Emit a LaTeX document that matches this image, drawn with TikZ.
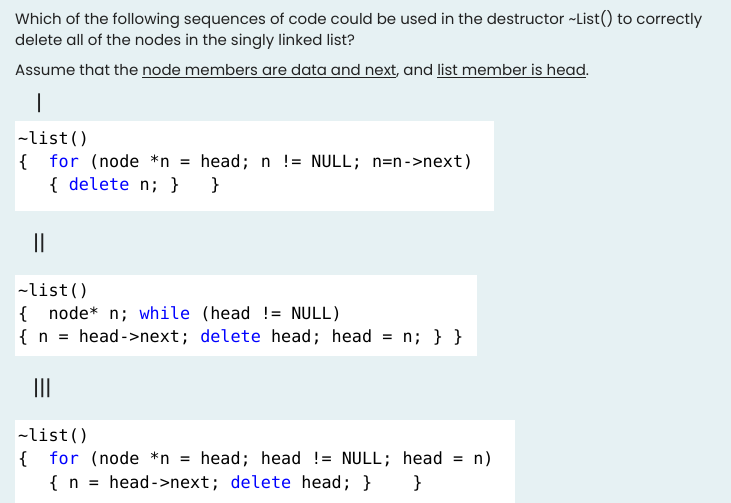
\documentclass[tikz,border=0pt]{standalone}
\usepackage{fontspec}
\setmainfont{Poppins}
\newfontfamily\codefont{DejaVu Sans Mono}
\definecolor{bgc}{HTML}{E6F1F3}
\definecolor{txt}{HTML}{222222}
\definecolor{kw}{HTML}{0000FF}
\newcommand{\kw}[1]{\textcolor{kw}{#1}}
\begin{document}
\begin{tikzpicture}[x=1pt,y=-1pt,
  q/.style={anchor=west,inner sep=0pt,font=\fontsize{15}{18}\selectfont,text=txt},
  rn/.style={anchor=west,inner sep=0pt,font=\fontsize{21}{24}\selectfont,text=txt},
  code/.style={anchor=west,inner sep=0pt,font=\codefont\fontsize{16.8}{23}\selectfont,text=black},
  box/.style={fill=white,draw=none}]
\fill[bgc] (0,0) rectangle (731,503);
\useasboundingbox (0,0) rectangle (731,503);
\node[q] (l1) at (15,20) {Which of the following sequences of code could be used in the destructor \textasciitilde List() to correctly};
\node[q] (l2) at (15,42) {delete all of the nodes in the singly linked list?};
\node[q] (l3) at (15,71) {Assume that the \underline{node members are data and next}, and \underline{list member is head}.};
\node[rn] (r1) at (36,103) {|};
\fill[box] (15,121) rectangle (494,211);
\node[code] (a1) at (18,139) {\textasciitilde list()};
\node[code] (a2) at (18,162) {\{\ \ \kw{for} (node *n = head; n != NULL; n=n->next)};
\node[code] (a3) at (18,185) {\ \ \ \{ \kw{delete} n; \}\ \ \ \}};
\node[rn] (r2) at (33,243) {||};
\fill[box] (15,275) rectangle (477,356);
\node[code] (b1) at (18,291) {\textasciitilde list()};
\node[code] (b2) at (18,314) {\{\ \ node* n; \kw{while} (head != NULL)};
\node[code] (b3) at (18,337) {\{ n = head->next; \kw{delete} head; head = n; \} \}};
\node[rn] (r3) at (33,388) {|||};
\fill[box] (15,420) rectangle (515,503);
\node[code] (c1) at (18,436) {\textasciitilde list()};
\node[code] (c2) at (18,459) {\{\ \ \kw{for} (node *n = head; head != NULL; head = n)};
\node[code] (c3) at (18,483) {\ \ \ \{ n = head->next; \kw{delete} head; \}\ \ \ \ \}};
\end{tikzpicture}
\end{document}
